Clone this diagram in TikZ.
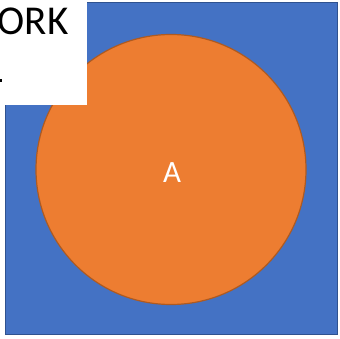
\documentclass[tikz,border=0pt]{standalone}
\usepackage{fontspec}
\setmainfont{Carlito}
\tikzset{
  bluebox/.style={fill={rgb,255:red,68;green,114;blue,196}, draw={rgb,255:red,47;green,82;blue,143}, line width=1.5pt},
  orangedisc/.style={circle, fill={rgb,255:red,237;green,125;blue,49}, draw={rgb,255:red,174;green,90;blue,33}, line width=1.2pt, inner sep=0pt},
  textbox/.style={fill=white, draw=none}
}
\begin{document}
\begin{tikzpicture}[x=1pt,y=-1pt]
\useasboundingbox (0,0) rectangle (340,339);
\fill[white] (0,0) rectangle (340,339);
\draw[bluebox] (5.5,2.5) rectangle (337.5,334.5);
\node[orangedisc, minimum size=270pt] (disc) at (171,169.5) {};
\node[text=white, font=\fontsize{31}{37}\selectfont, inner sep=0pt] (lblA) at (172,173) {A};
\fill[textbox] (0,0) rectangle (87,105);
\begin{scope}
\clip (0,0) rectangle (87,105);
\node[anchor=base west, inner sep=0pt, font=\fontsize{41}{49}\selectfont] (title) at (-2.5,35) {ORK};
\fill[black] (0,79) rectangle (1.8,82);
\end{scope}
\end{tikzpicture}
\end{document}
